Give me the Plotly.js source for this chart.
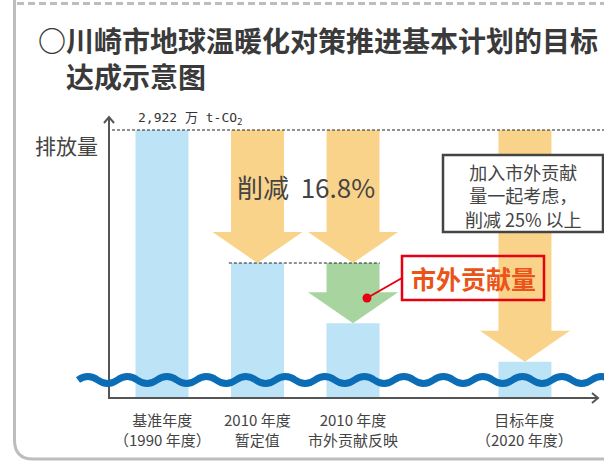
<!DOCTYPE html>
<html><head><meta charset="utf-8">
<script src="https://cdn.plot.ly/plotly-3.0.1.min.js"></script>
<style>html,body{margin:0;padding:0;background:#fff;} #chart{width:604px;height:462px;}</style>
</head><body><div id="chart"></div>
<script>
// ---- data ----
const categories = ['基准年度\n（1990 年度）', '2010 年度\n暂定值', '2010 年度\n市外贡献反映', '目标年度\n（2020 年度）'];
const xSlots = [0, 1, 2, 3.8];
const emissions = [2922, 2431, 2209, 2066];   // 万 t-CO2 (schematic)
const reductionPct = 16.8;
const targetPct = 25;
const titleLines = ['○川崎市地球温暖化对策推进基本计划的目标', '　达成示意图'];
const yTitle = '排放量';
const unitText = '万 t-CO<sub>2</sub>';
const noteLines = ['加入市外贡献', '量一起考虑，', '削减 ' + targetPct + '% 以上'];
const calloutText = '市外贡献量';

// ---- style / layout helpers ----
const W = 604, H = 462;
const M = {l: 109, r: 6, t: 116, b: 64};
const PW = W - M.l - M.r, PH = H - M.t - M.b;
const px = x => (x - M.l) / PW;
const py = y => (H - M.b - y) / PH;
const FONT = '"Noto Sans CJK SC", "Noto Sans", sans-serif';
const MONO = '"DejaVu Sans Mono", "Noto Sans CJK SC", monospace';
const cBar = '#bde3f7', cOrange = '#fad38b', cGreen = '#a8d4a0', cWave = '#0a6db6';
const cText = '#444444', cRed = '#e60012', cRedText = '#ea5418', cAxis = '#555555';
const yRange = [1932.6, 2973.7];
const xRange = [-0.555, 4.565];
const barW = 0.555, headW = 0.471;
const headH = 31 * (yRange[1] - yRange[0]) / PH;

function arrow(x, top, tip, color) {
  const w = barW / 2, b = tip + headH;
  return {type: 'path', xref: 'x', yref: 'y', layer: 'above', fillcolor: color, line: {width: 0},
    path: `M${x - w},${top} L${x + w},${top} L${x + w},${b} L${x + headW},${b} L${x},${tip} L${x - headW},${b} L${x - w},${b} Z`};
}

// wave decoration
function wavePath(x0, x1, yc, amp, period) {
  let d = `M${px(x0)},${py(yc)}`;
  let x = x0, up = true;
  while (x < x1) {
    const xm = x + period / 4, xe = x + period / 2;
    const yctl = up ? yc - 2 * amp : yc + 2 * amp;
    d += ` Q${px(xm)},${py(yctl)} ${px(xe)},${py(yc)}`;
    x = xe; up = !up;
  }
  return d;
}
const P = (x, y) => `${px(x)},${py(y)}`;
const fmt = v => v.toLocaleString('en-US');

const shapes = [];
// frame
shapes.push({type: 'path', xref: 'paper', yref: 'paper', layer: 'above',
  path: `M${P(14.5, 0)} L${P(14.5, 440)} Q${P(14.5, 459)} ${P(33, 459)} L${P(606, 459)}`,
  line: {color: '#bdbdbd', width: 3}});
shapes.push({type: 'line', xref: 'paper', yref: 'paper', x0: px(17), x1: px(606), y0: py(3.5), y1: py(3.5),
  line: {color: '#bdbdbd', width: 3, dash: '7px,4px'}});
// arrows
shapes.push(arrow(xSlots[1], emissions[0], emissions[1], cOrange));
shapes.push(arrow(xSlots[2], emissions[0], emissions[1], cOrange));
shapes.push(arrow(xSlots[2], emissions[1], emissions[2], cGreen));
shapes.push(arrow(xSlots[3], emissions[0], emissions[3], cOrange));
// reference dashed lines
shapes.push({type: 'line', xref: 'paper', yref: 'y', x0: px(112), x1: px(604), y0: emissions[0], y1: emissions[0],
  line: {color: '#222', width: 1, dash: '3px,2px'}});
shapes.push({type: 'line', xref: 'x', yref: 'y', x0: xSlots[1] - 0.3, x1: xSlots[2] + 0.28, y0: emissions[1], y1: emissions[1],
  line: {color: '#222', width: 1, dash: '3px,2px'}});
// axes with arrowheads
shapes.push({type: 'path', xref: 'paper', yref: 'paper', layer: 'above',
  path: `M${P(109, 398)} L${P(109, 117)} M${P(104, 123)} L${P(109, 117)} L${P(114, 123)}`,
  line: {color: cAxis, width: 2}});
shapes.push({type: 'path', xref: 'paper', yref: 'paper', layer: 'above',
  path: `M${P(108, 398)} L${P(598, 398)} M${P(592, 393)} L${P(598, 398)} L${P(592, 403)}`,
  line: {color: cAxis, width: 2}});
// wave
shapes.push({type: 'path', xref: 'paper', yref: 'paper', layer: 'above', path: wavePath(78, 606, 380, 3.5, 39.5),
  line: {color: cWave, width: 7}});
// note box
shapes.push({type: 'rect', xref: 'paper', yref: 'paper', layer: 'above', x0: px(443), x1: px(603), y0: py(155), y1: py(232),
  fillcolor: '#ffffff', line: {color: '#444', width: 2.5}});
// callout
shapes.push({type: 'rect', xref: 'paper', yref: 'paper', layer: 'above', x0: px(402), x1: px(544), y0: py(256), y1: py(300),
  fillcolor: 'rgba(0,0,0,0)', line: {color: cRed, width: 2.5}});
shapes.push({type: 'line', xref: 'paper', yref: 'paper', layer: 'above', x0: px(367), x1: px(402), y0: py(298), y1: py(278),
  line: {color: cRed, width: 2}});
shapes.push({type: 'circle', xref: 'paper', yref: 'paper', layer: 'above', x0: px(362.5), x1: px(371.5), y0: py(302.5), y1: py(293.5),
  fillcolor: cRed, line: {width: 0}});

const ann = [];
// title (two lines)
ann.push({xref: 'paper', yref: 'paper', x: px(36), y: py(58), xanchor: 'left', yanchor: 'middle', align: 'left', showarrow: false,
  text: titleLines.map(t => '<b>' + t + '</b>').join('<br>'), font: {family: FONT, size: 28, color: '#3a3a3a'}});
// y title
ann.push({xref: 'paper', yref: 'paper', x: px(66), y: py(145), xanchor: 'center', yanchor: 'middle', showarrow: false,
  text: yTitle, font: {family: FONT, size: 21, color: cText}});
// base value label
ann.push({xref: 'paper', yref: 'paper', x: px(136), y: py(119), xanchor: 'left', yanchor: 'middle', showarrow: false,
  text: fmt(emissions[0]) + ' ' + unitText, font: {family: MONO, size: 13, color: '#333'}});
// reduction text
ann.push({xref: 'paper', yref: 'paper', x: px(306), y: py(186), xanchor: 'center', yanchor: 'middle', showarrow: false,
  text: '削减  ' + reductionPct.toFixed(1) + '%', font: {family: FONT, size: 26, color: cText}});
// note text
ann.push({xref: 'paper', yref: 'paper', x: px(523), y: py(195), xanchor: 'center', yanchor: 'middle', showarrow: false,
  text: noteLines.join('<br>'), font: {family: FONT, size: 18, color: cText}});
// callout text
ann.push({xref: 'paper', yref: 'paper', x: px(473), y: py(278), xanchor: 'center', yanchor: 'middle', showarrow: false,
  text: '<b>' + calloutText + '</b>', font: {family: FONT, size: 25, color: cRedText}});
// category labels
categories.forEach((c, i) => {
  ann.push({xref: 'x', yref: 'paper', x: xSlots[i], y: py(429.5), xanchor: 'center', yanchor: 'middle',
    showarrow: false, text: c.split('\n').join('<br>'), font: {family: FONT, size: 15, color: cText}});
});

const trace = {type: 'bar', x: xSlots, y: emissions, width: barW, marker: {color: cBar, line: {width: 0}},
  hoverinfo: 'skip', cliponaxis: true};

const layout = {
  width: W, height: H, autosize: false, margin: M,
  paper_bgcolor: '#fff', plot_bgcolor: '#fff', showlegend: false,
  xaxis: {range: xRange, visible: false, fixedrange: true},
  yaxis: {range: yRange, visible: false, fixedrange: true},
  shapes: shapes, annotations: ann, hovermode: false
};
Plotly.newPlot('chart', [trace], layout, {displayModeBar: false, staticPlot: true});
</script></body></html>
